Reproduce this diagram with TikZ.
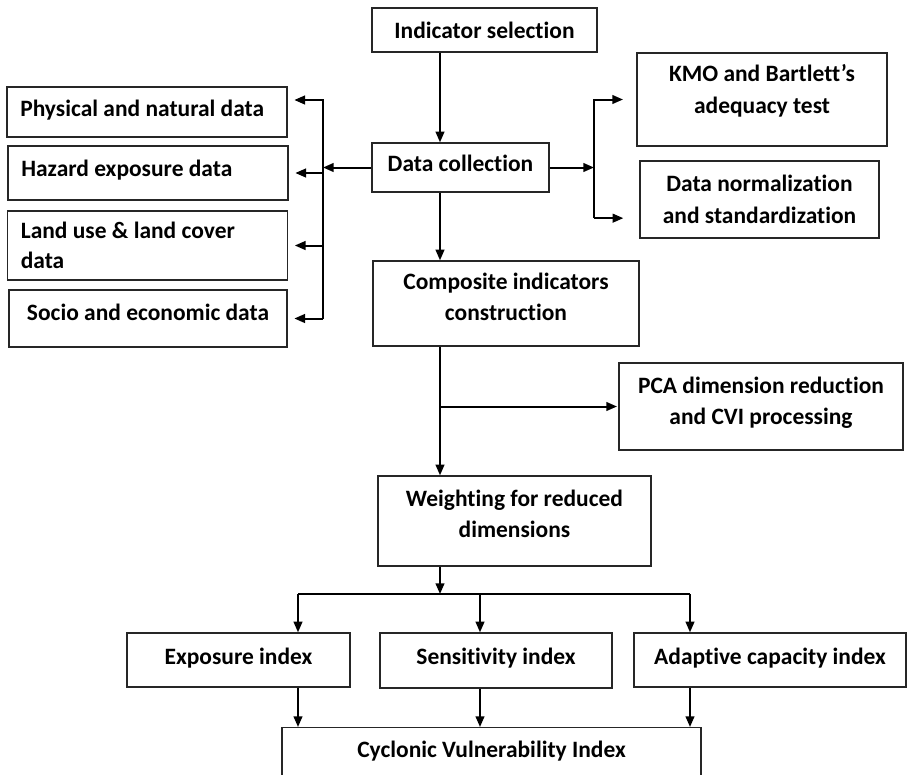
\documentclass[tikz,border=0pt]{standalone}
\usepackage{fontspec}
\setmainfont{Carlito}[RawFeature=-liga]
\usetikzlibrary{arrows.meta}

\tikzset{
  box/.style={draw=black!85, line width=1pt, inner sep=0pt, align=flush center,
    font=\fontsize{17.6pt}{23.5pt}\selectfont\bfseries},
  leftbox/.style={box, align=flush left, text width=190pt, inner xsep=10pt, inner ysep=0pt},
  raised/.style={text depth=#1},
  arr/.style={line width=1.5pt, -{Triangle[length=8pt,width=6.5pt]}},
  line/.style={line width=1.5pt}
}

\begin{document}
\begin{tikzpicture}[x=0.75pt, y=-0.75pt]
\useasboundingbox (0,0) rectangle (908,775);

% Main column
\node[box, minimum width=168.75pt, minimum height=33pt] (ind) at (484.5,30) {Indicator selection};
\node[box, minimum width=132.75pt, minimum height=36.75pt, raised=7pt] (dc) at (460.5,167.5) {Data collection};
\node[box, minimum width=199.5pt, minimum height=63.75pt, raised=10pt] (comp) at (506,303.5) {Composite indicators\\construction};
\node[box, minimum width=204.75pt, minimum height=67.5pt, raised=11pt] (wt) at (514.5,521) {Weighting for reduced\\dimensions};

% Right side boxes
\node[box, minimum width=187.5pt, minimum height=69.75pt, raised=16pt] (kmo) at (762,99.5) {KMO and Bartlett's\\adequacy test};
\node[box, minimum width=179.25pt, minimum height=57.75pt] (norm) at (759.5,199.5) {Data normalization\\and standardization};
\node[box, minimum width=213pt, minimum height=65.25pt, raised=9pt] (pca) at (761,406.5) {PCA dimension reduction\\and CVI processing};

% Data sources on the left
\node[leftbox, minimum height=37.5pt, raised=6pt] (phys) at (147,112) {Physical and natural data};
\node[leftbox, minimum height=40.5pt, raised=7pt] (haz) at (148,173) {Hazard exposure data};
\node[leftbox, minimum height=51.75pt, font=\fontsize{17.6pt}{22pt}\selectfont\bfseries] (land) at (147.5,245.5) {Land use \& land cover\\data};
\node[box, minimum width=208.5pt, minimum height=42.75pt, raised=9pt] (socio) at (148,318.5) {Socio and economic data};

% Index row
\node[box, minimum width=167.25pt, minimum height=40.5pt, raised=6pt] (expo) at (238.5,660) {Exposure index};
\node[box, minimum width=174pt, minimum height=41.25pt, raised=6pt] (sens) at (496,660.5) {Sensitivity index};
\node[box, minimum width=204pt, minimum height=40.5pt, raised=6pt] (adap) at (770,660) {Adaptive capacity index};
\node[box, anchor=north, minimum width=314.25pt, text height=17pt, text depth=40pt, inner ysep=5pt] (cvi) at (491.5,727) {Cyclonic Vulnerability Index};

% Junction lines
\coordinate (spine) at (440,0);
\coordinate (lj) at (323,0);
\coordinate (rj) at (594,0);
\coordinate (bj) at (0,594);
\coordinate (c1) at (298,0);
\coordinate (c2) at (480,0);
\coordinate (c3) at (690,0);

% Spine arrows
\draw[arr] (ind.south -| spine) -- (dc.north -| spine);
\draw[arr] (dc.south -| spine) -- (comp.north -| spine);
\draw[arr] (comp.south -| spine) -- (wt.north -| spine);
\draw[arr] (spine |- pca.west) -- ([xshift=-1pt]pca.west);

% Data collection to the left
\draw[arr] (dc.west) -- (dc.west -| lj);
\draw[arr, shorten >=5pt] (lj |- socio.east) |- ([yshift=9pt]phys.east);
\foreach \b in {haz, land, socio} {
  \draw[arr, shorten >=5pt] (lj |- \b.east) -- (\b.east);
}

% Data collection to the right
\coordinate (rn) at ([yshift=-14pt]norm.west);
\draw[arr] (dc.east) -- (dc.east -| rj);
\draw[arr, shorten >=10pt] (rn -| rj) |- (kmo.west);
\draw[arr, shorten >=12pt] (rn -| rj) -- (rn);

% Split into the three indices
\draw[arr] (wt.south -| spine) -- (spine |- bj);
\draw[line] (c1 |- bj) -- (c3 |- bj);
\foreach \c/\b in {c1/expo, c2/sens, c3/adap} {
  \draw[arr] (\c |- bj) -- (\c |- \b.north);
  \draw[arr] (\c |- \b.south) -- (\c |- cvi.north);
}
\end{tikzpicture}
\end{document}
